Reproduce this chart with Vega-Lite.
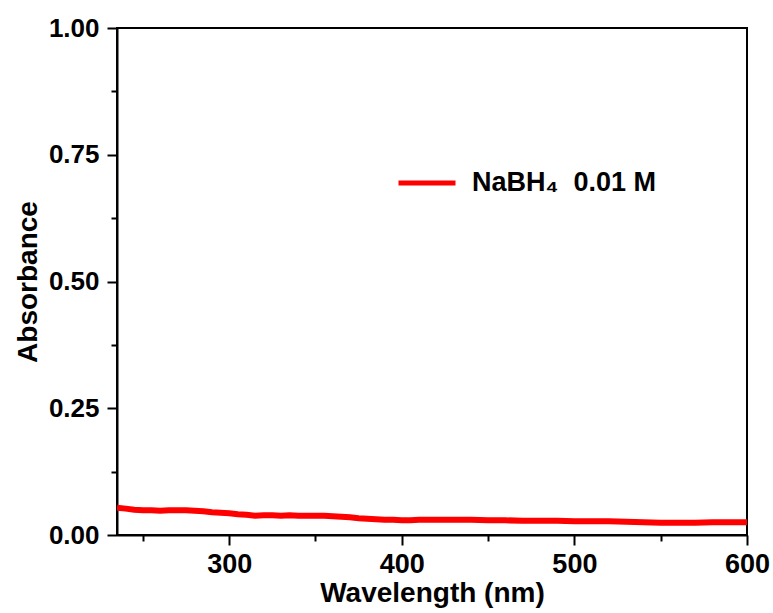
{
  "$schema": "https://vega.github.io/schema/vega-lite/v6.json",
  "width": 630,
  "height": 507,
  "autosize": {"type": "none"},
  "padding": {"left": 117, "top": 28, "right": 26, "bottom": 78},
  "background": "white",
  "config": {
    "font": "Liberation Sans",
    "view": {"stroke": "black", "strokeWidth": 2},
    "axis": {"domainColor": "black", "domainWidth": 2, "tickColor": "black", "tickWidth": 2, "grid": false, "labelColor": "black", "titleColor": "black", "labelFont": "Liberation Sans", "titleFont": "Liberation Sans", "labelFontWeight": "bold", "titleFontWeight": "bold"}
  },
  "data": {"values": [
    {"wavelength": 235, "absorbance": 0.054, "series": "NaBH₄\u00a0\u00a00.01 M"},
    {"wavelength": 240, "absorbance": 0.052, "series": "NaBH₄\u00a0\u00a00.01 M"},
    {"wavelength": 245, "absorbance": 0.050, "series": "NaBH₄\u00a0\u00a00.01 M"},
    {"wavelength": 250, "absorbance": 0.049, "series": "NaBH₄\u00a0\u00a00.01 M"},
    {"wavelength": 255, "absorbance": 0.049, "series": "NaBH₄\u00a0\u00a00.01 M"},
    {"wavelength": 260, "absorbance": 0.048, "series": "NaBH₄\u00a0\u00a00.01 M"},
    {"wavelength": 265, "absorbance": 0.049, "series": "NaBH₄\u00a0\u00a00.01 M"},
    {"wavelength": 270, "absorbance": 0.049, "series": "NaBH₄\u00a0\u00a00.01 M"},
    {"wavelength": 275, "absorbance": 0.049, "series": "NaBH₄\u00a0\u00a00.01 M"},
    {"wavelength": 280, "absorbance": 0.048, "series": "NaBH₄\u00a0\u00a00.01 M"},
    {"wavelength": 285, "absorbance": 0.047, "series": "NaBH₄\u00a0\u00a00.01 M"},
    {"wavelength": 290, "absorbance": 0.045, "series": "NaBH₄\u00a0\u00a00.01 M"},
    {"wavelength": 295, "absorbance": 0.044, "series": "NaBH₄\u00a0\u00a00.01 M"},
    {"wavelength": 300, "absorbance": 0.043, "series": "NaBH₄\u00a0\u00a00.01 M"},
    {"wavelength": 305, "absorbance": 0.041, "series": "NaBH₄\u00a0\u00a00.01 M"},
    {"wavelength": 310, "absorbance": 0.040, "series": "NaBH₄\u00a0\u00a00.01 M"},
    {"wavelength": 315, "absorbance": 0.038, "series": "NaBH₄\u00a0\u00a00.01 M"},
    {"wavelength": 320, "absorbance": 0.039, "series": "NaBH₄\u00a0\u00a00.01 M"},
    {"wavelength": 325, "absorbance": 0.039, "series": "NaBH₄\u00a0\u00a00.01 M"},
    {"wavelength": 330, "absorbance": 0.038, "series": "NaBH₄\u00a0\u00a00.01 M"},
    {"wavelength": 335, "absorbance": 0.039, "series": "NaBH₄\u00a0\u00a00.01 M"},
    {"wavelength": 340, "absorbance": 0.038, "series": "NaBH₄\u00a0\u00a00.01 M"},
    {"wavelength": 345, "absorbance": 0.038, "series": "NaBH₄\u00a0\u00a00.01 M"},
    {"wavelength": 350, "absorbance": 0.038, "series": "NaBH₄\u00a0\u00a00.01 M"},
    {"wavelength": 355, "absorbance": 0.038, "series": "NaBH₄\u00a0\u00a00.01 M"},
    {"wavelength": 360, "absorbance": 0.037, "series": "NaBH₄\u00a0\u00a00.01 M"},
    {"wavelength": 365, "absorbance": 0.036, "series": "NaBH₄\u00a0\u00a00.01 M"},
    {"wavelength": 370, "absorbance": 0.035, "series": "NaBH₄\u00a0\u00a00.01 M"},
    {"wavelength": 375, "absorbance": 0.033, "series": "NaBH₄\u00a0\u00a00.01 M"},
    {"wavelength": 380, "absorbance": 0.032, "series": "NaBH₄\u00a0\u00a00.01 M"},
    {"wavelength": 385, "absorbance": 0.031, "series": "NaBH₄\u00a0\u00a00.01 M"},
    {"wavelength": 390, "absorbance": 0.030, "series": "NaBH₄\u00a0\u00a00.01 M"},
    {"wavelength": 395, "absorbance": 0.030, "series": "NaBH₄\u00a0\u00a00.01 M"},
    {"wavelength": 400, "absorbance": 0.029, "series": "NaBH₄\u00a0\u00a00.01 M"},
    {"wavelength": 405, "absorbance": 0.029, "series": "NaBH₄\u00a0\u00a00.01 M"},
    {"wavelength": 410, "absorbance": 0.030, "series": "NaBH₄\u00a0\u00a00.01 M"},
    {"wavelength": 415, "absorbance": 0.030, "series": "NaBH₄\u00a0\u00a00.01 M"},
    {"wavelength": 420, "absorbance": 0.030, "series": "NaBH₄\u00a0\u00a00.01 M"},
    {"wavelength": 430, "absorbance": 0.030, "series": "NaBH₄\u00a0\u00a00.01 M"},
    {"wavelength": 440, "absorbance": 0.030, "series": "NaBH₄\u00a0\u00a00.01 M"},
    {"wavelength": 450, "absorbance": 0.029, "series": "NaBH₄\u00a0\u00a00.01 M"},
    {"wavelength": 460, "absorbance": 0.029, "series": "NaBH₄\u00a0\u00a00.01 M"},
    {"wavelength": 470, "absorbance": 0.028, "series": "NaBH₄\u00a0\u00a00.01 M"},
    {"wavelength": 480, "absorbance": 0.028, "series": "NaBH₄\u00a0\u00a00.01 M"},
    {"wavelength": 490, "absorbance": 0.028, "series": "NaBH₄\u00a0\u00a00.01 M"},
    {"wavelength": 500, "absorbance": 0.027, "series": "NaBH₄\u00a0\u00a00.01 M"},
    {"wavelength": 510, "absorbance": 0.027, "series": "NaBH₄\u00a0\u00a00.01 M"},
    {"wavelength": 520, "absorbance": 0.027, "series": "NaBH₄\u00a0\u00a00.01 M"},
    {"wavelength": 530, "absorbance": 0.026, "series": "NaBH₄\u00a0\u00a00.01 M"},
    {"wavelength": 540, "absorbance": 0.025, "series": "NaBH₄\u00a0\u00a00.01 M"},
    {"wavelength": 550, "absorbance": 0.024, "series": "NaBH₄\u00a0\u00a00.01 M"},
    {"wavelength": 560, "absorbance": 0.024, "series": "NaBH₄\u00a0\u00a00.01 M"},
    {"wavelength": 570, "absorbance": 0.024, "series": "NaBH₄\u00a0\u00a00.01 M"},
    {"wavelength": 580, "absorbance": 0.025, "series": "NaBH₄\u00a0\u00a00.01 M"},
    {"wavelength": 590, "absorbance": 0.025, "series": "NaBH₄\u00a0\u00a00.01 M"},
    {"wavelength": 600, "absorbance": 0.025, "series": "NaBH₄\u00a0\u00a00.01 M"}
  ]},
  "resolve": {"axis": {"x": "independent", "y": "independent"}},
  "layer": [
    {
      "mark": {"type": "line", "strokeWidth": 6, "clip": true},
      "encoding": {
        "x": {"field": "wavelength", "type": "quantitative", "scale": {"domain": [235, 600], "nice": false, "zero": false},
          "axis": {"orient": "bottom", "values": [300, 400, 500, 600], "tickSize": 10, "labelFontSize": 27, "labelPadding": 6, "title": "Wavelength (nm)", "titleFontSize": 28, "titlePadding": 2, "labelFlush": false}},
        "y": {"field": "absorbance", "type": "quantitative", "scale": {"domain": [0, 1], "nice": false},
          "axis": {"orient": "left", "values": [0, 0.25, 0.5, 0.75, 1], "format": ".2f", "tickSize": 10, "labelFontSize": 26, "labelPadding": 8, "title": "Absorbance", "titleFontSize": 28, "titlePadding": 6, "labelFlush": false}},
        "color": {"field": "series", "type": "nominal", "scale": {"range": ["#ff0000"]},
          "legend": {"title": null, "orient": "none", "legendX": 279, "legendY": 124, "symbolType": "stroke", "symbolSize": 3249, "symbolStrokeWidth": 5, "labelFontSize": 27, "labelFontWeight": "bold", "labelColor": "black", "labelFont": "Liberation Sans", "labelOffset": 14, "labelLimit": 0, "padding": 0}}
      }
    },
    {
      "mark": {"type": "line", "opacity": 0},
      "encoding": {
        "x": {"field": "wavelength", "type": "quantitative", "scale": {"domain": [235, 600], "nice": false, "zero": false},
          "axis": {"orient": "bottom", "values": [250, 350, 450, 550], "tickSize": 6, "labels": false, "domain": false, "title": null}},
        "y": {"field": "absorbance", "type": "quantitative", "scale": {"domain": [0, 1], "nice": false},
          "axis": {"orient": "left", "values": [0.125, 0.375, 0.625, 0.875], "tickSize": 6, "labels": false, "domain": false, "title": null}}
      }
    }
  ]
}
